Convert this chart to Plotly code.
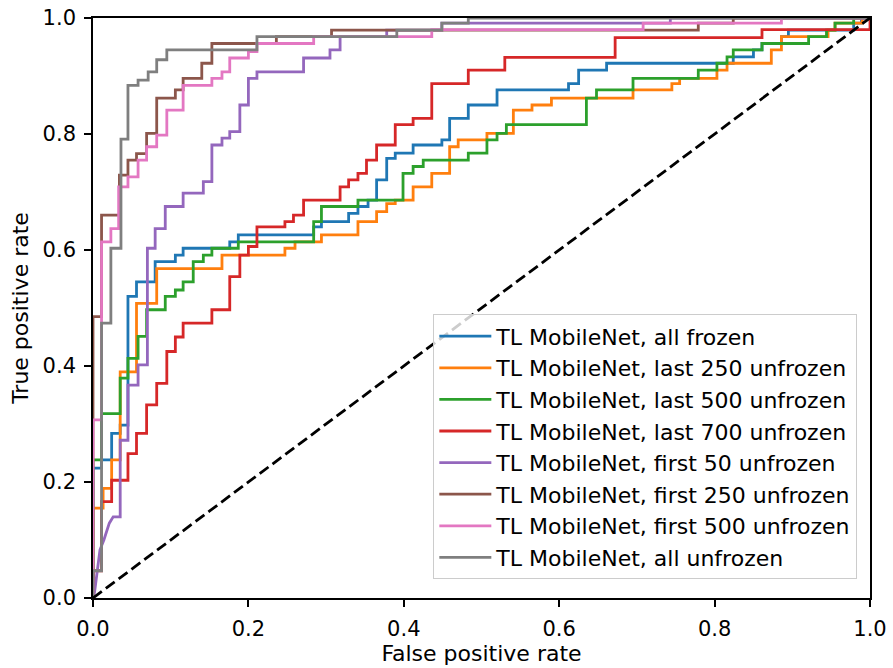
import plotly.graph_objects as go

# ---- data: ROC curve vertices (false positive rate, true positive rate) ----
labels = [
    "TL MobileNet, all frozen",
    "TL MobileNet, last 250 unfrozen",
    "TL MobileNet, last 500 unfrozen",
    "TL MobileNet, last 700 unfrozen",
    "TL MobileNet, first 50 unfrozen",
    "TL MobileNet, first 250 unfrozen",
    "TL MobileNet, first 500 unfrozen",
    "TL MobileNet, all unfrozen",
]
colors = ["#1f77b4", "#ff7f0e", "#2ca02c", "#d62728",
          "#9467bd", "#8c564b", "#e377c2", "#7f7f7f"]

fpr_all_frozen = [0, 0, 0.011, 0.011, 0.024, 0.024, 0.035, 0.035, 0.045, 0.045, 0.056, 0.056, 0.080, 0.080,
                  0.106, 0.106, 0.116, 0.116, 0.176, 0.176, 0.187, 0.187, 0.284, 0.284, 0.294, 0.294, 0.329, 0.329,
                  0.341, 0.341, 0.354, 0.354, 0.365, 0.365, 0.378, 0.378, 0.389, 0.389, 0.412, 0.412, 0.449, 0.449,
                  0.459, 0.459, 0.483, 0.483, 0.520, 0.520, 0.612, 0.612, 0.625, 0.625, 0.661, 0.661, 0.824, 0.824,
                  0.850, 0.850, 0.861, 0.861, 0.886, 0.886, 0.895, 0.895, 0.979, 0.979, 0.989, 0.989, 1.0]
tpr_all_frozen = [0, 0.224, 0.224, 0.238, 0.238, 0.284, 0.284, 0.298, 0.298, 0.520, 0.520, 0.545, 0.545, 0.580,
                  0.580, 0.591, 0.591, 0.603, 0.603, 0.614, 0.614, 0.626, 0.626, 0.640, 0.640, 0.649, 0.649, 0.663,
                  0.663, 0.675, 0.675, 0.686, 0.686, 0.721, 0.721, 0.758, 0.758, 0.767, 0.767, 0.781, 0.781, 0.790,
                  0.790, 0.827, 0.827, 0.850, 0.850, 0.876, 0.876, 0.887, 0.887, 0.910, 0.910, 0.922, 0.922, 0.933,
                  0.933, 0.945, 0.945, 0.956, 0.956, 0.968, 0.968, 0.979, 0.979, 0.991, 0.991, 1.0, 1.0]

fpr_last250 = [0, 0, 0.013, 0.013, 0.024, 0.024, 0.035, 0.035, 0.056, 0.056, 0.082, 0.082, 0.166, 0.166,
               0.247, 0.247, 0.260, 0.260, 0.294, 0.294, 0.341, 0.341, 0.365, 0.365, 0.378, 0.378, 0.389, 0.389,
               0.412, 0.412, 0.436, 0.436, 0.459, 0.459, 0.470, 0.470, 0.507, 0.507, 0.541, 0.541, 0.565, 0.565,
               0.590, 0.590, 0.695, 0.695, 0.745, 0.745, 0.755, 0.755, 0.803, 0.803, 0.816, 0.816, 0.873, 0.873,
               0.886, 0.886, 0.946, 0.946, 0.955, 0.955, 0.990, 0.990, 1.0]
tpr_last250 = [0, 0.155, 0.155, 0.189, 0.189, 0.238, 0.238, 0.390, 0.390, 0.508, 0.508, 0.568, 0.568, 0.591,
               0.591, 0.603, 0.603, 0.614, 0.614, 0.626, 0.626, 0.649, 0.649, 0.666, 0.666, 0.680, 0.680, 0.686,
               0.686, 0.709, 0.709, 0.732, 0.732, 0.778, 0.778, 0.790, 0.790, 0.801, 0.801, 0.841, 0.841, 0.850,
               0.850, 0.862, 0.862, 0.876, 0.876, 0.887, 0.887, 0.896, 0.896, 0.910, 0.910, 0.922, 0.922, 0.945,
               0.945, 0.968, 0.968, 0.979, 0.979, 0.991, 0.991, 1.0, 1.0]

fpr_last500 = [0, 0, 0.011, 0.011, 0.035, 0.035, 0.045, 0.045, 0.058, 0.058, 0.069, 0.069, 0.093, 0.093,
               0.106, 0.106, 0.116, 0.116, 0.129, 0.129, 0.142, 0.142, 0.153, 0.153, 0.187, 0.187, 0.284, 0.284,
               0.294, 0.294, 0.341, 0.341, 0.399, 0.399, 0.412, 0.412, 0.425, 0.425, 0.483, 0.483, 0.507, 0.507,
               0.520, 0.520, 0.532, 0.532, 0.635, 0.635, 0.648, 0.648, 0.695, 0.695, 0.779, 0.779, 0.803, 0.803,
               0.816, 0.816, 0.824, 0.824, 0.861, 0.861, 0.921, 0.921, 0.944, 0.944, 0.955, 0.955, 0.979, 0.979, 1.0]
tpr_last500 = [0, 0.238, 0.238, 0.318, 0.318, 0.379, 0.379, 0.413, 0.413, 0.451, 0.451, 0.497, 0.497, 0.520,
               0.520, 0.531, 0.531, 0.545, 0.545, 0.580, 0.580, 0.591, 0.591, 0.603, 0.603, 0.614, 0.614, 0.649,
               0.649, 0.675, 0.675, 0.686, 0.686, 0.732, 0.732, 0.744, 0.744, 0.755, 0.755, 0.767, 0.767, 0.790,
               0.790, 0.801, 0.801, 0.816, 0.816, 0.862, 0.862, 0.876, 0.876, 0.896, 0.896, 0.910, 0.910, 0.922,
               0.922, 0.933, 0.933, 0.945, 0.945, 0.956, 0.956, 0.968, 0.968, 0.979, 0.979, 0.991, 0.991, 1.0, 1.0]

fpr_last700 = [0, 0, 0.011, 0.011, 0.024, 0.024, 0.045, 0.045, 0.056, 0.056, 0.069, 0.069, 0.082, 0.082, 0.095,
               0.095, 0.106, 0.106, 0.116, 0.116, 0.153, 0.153, 0.176, 0.176, 0.189, 0.189, 0.200, 0.200, 0.211,
               0.211, 0.247, 0.247, 0.258, 0.258, 0.271, 0.271, 0.318, 0.318, 0.329, 0.329, 0.341, 0.341, 0.352,
               0.352, 0.365, 0.365, 0.389, 0.389, 0.412, 0.412, 0.436, 0.436, 0.483, 0.483, 0.530, 0.530, 0.672,
               0.672, 0.861, 0.861, 1.0, 1.0]
tpr_last700 = [0, 0.047, 0.047, 0.166, 0.166, 0.203, 0.203, 0.249, 0.249, 0.284, 0.284, 0.333, 0.333, 0.370, 0.370,
               0.425, 0.425, 0.450, 0.450, 0.474, 0.474, 0.497, 0.497, 0.554, 0.554, 0.591, 0.591, 0.606, 0.606,
               0.640, 0.640, 0.649, 0.649, 0.660, 0.660, 0.686, 0.686, 0.709, 0.709, 0.721, 0.721, 0.732, 0.732,
               0.755, 0.755, 0.781, 0.781, 0.816, 0.816, 0.827, 0.827, 0.887, 0.887, 0.910, 0.910, 0.932, 0.932,
               0.966, 0.966, 0.980, 0.980, 1.0]

fpr_first50 = [0, 0.002, 0.009, 0.014, 0.021, 0.026, 0.035, 0.035, 0.045, 0.045, 0.058, 0.058, 0.070, 0.070,
               0.080, 0.080, 0.093, 0.093, 0.116, 0.116, 0.142, 0.142, 0.153, 0.153, 0.166, 0.166, 0.176, 0.176,
               0.189, 0.189, 0.200, 0.200, 0.211, 0.211, 0.271, 0.271, 0.305, 0.305, 0.318, 0.318, 0.378, 0.378,
               0.449, 0.449, 0.743, 0.743, 1.0]
tpr_first50 = [0, 0.010, 0.083, 0.100, 0.129, 0.140, 0.140, 0.272, 0.272, 0.367, 0.367, 0.402, 0.402, 0.603,
               0.603, 0.637, 0.637, 0.675, 0.675, 0.698, 0.698, 0.718, 0.718, 0.781, 0.781, 0.793, 0.793, 0.804,
               0.804, 0.850, 0.850, 0.896, 0.896, 0.907, 0.907, 0.931, 0.931, 0.945, 0.945, 0.968, 0.968, 0.979,
               0.979, 0.991, 0.991, 1.0, 1.0]

fpr_first250 = [0, 0, 0.011, 0.011, 0.034, 0.034, 0.045, 0.045, 0.056, 0.056, 0.069, 0.069, 0.082, 0.082,
                0.106, 0.106, 0.116, 0.116, 0.140, 0.140, 0.153, 0.153, 0.236, 0.236, 0.307, 0.307, 0.779, 0.779,
                0.824, 0.824, 1.0]
tpr_first250 = [0, 0.485, 0.485, 0.660, 0.660, 0.729, 0.729, 0.755, 0.755, 0.766, 0.766, 0.801, 0.801, 0.862,
                0.862, 0.876, 0.876, 0.896, 0.896, 0.922, 0.922, 0.956, 0.956, 0.968, 0.968, 0.979, 0.979, 0.991,
                0.991, 1.0, 1.0]

fpr_first500 = [0, 0, 0.011, 0.011, 0.023, 0.023, 0.033, 0.033, 0.045, 0.045, 0.058, 0.058, 0.069, 0.069,
                0.082, 0.082, 0.095, 0.095, 0.116, 0.116, 0.153, 0.153, 0.166, 0.166, 0.176, 0.176, 0.200, 0.200,
                0.211, 0.211, 0.284, 0.284, 0.436, 0.436, 0.708, 0.708, 0.886, 0.886, 1.0]
tpr_first500 = [0, 0.307, 0.307, 0.614, 0.614, 0.637, 0.637, 0.709, 0.709, 0.726, 0.726, 0.755, 0.755, 0.778,
                0.778, 0.798, 0.798, 0.841, 0.841, 0.884, 0.884, 0.896, 0.896, 0.907, 0.907, 0.931, 0.931, 0.942,
                0.942, 0.956, 0.956, 0.968, 0.968, 0.980, 0.980, 0.991, 0.991, 1.0, 1.0]

fpr_all_unfrozen = [0, 0, 0.011, 0.011, 0.023, 0.023, 0.036, 0.036, 0.045, 0.045, 0.058, 0.058, 0.071, 0.071,
                    0.082, 0.082, 0.095, 0.095, 0.211, 0.211, 0.391, 0.391, 0.449, 0.449, 0.483, 0.483, 1.0]
tpr_all_unfrozen = [0, 0.047, 0.047, 0.474, 0.474, 0.603, 0.603, 0.791, 0.791, 0.884, 0.884, 0.893, 0.893, 0.907,
                    0.907, 0.928, 0.928, 0.945, 0.945, 0.968, 0.968, 0.979, 0.979, 0.991, 0.991, 1.0, 1.0]

chance_line = [0, 1]

xticks = [0.0, 0.2, 0.4, 0.6, 0.8, 1.0]
yticks = [0.0, 0.2, 0.4, 0.6, 0.8, 1.0]

series = [
    (fpr_all_frozen, tpr_all_frozen),
    (fpr_last250, tpr_last250),
    (fpr_last500, tpr_last500),
    (fpr_last700, tpr_last700),
    (fpr_first50, tpr_first50),
    (fpr_first250, tpr_first250),
    (fpr_first500, tpr_first500),
    (fpr_all_unfrozen, tpr_all_unfrozen),
]

FONT = "DejaVu Sans"
FS_TICK = 21
FS_TEXT = 22

fig = go.Figure()
for (xs, ys), name, col in zip(series, labels, colors):
    fig.add_trace(go.Scatter(x=xs, y=ys, mode="lines", name=name, legendgroup=name,
                             line=dict(color=col, width=2.8)))

fig.add_trace(go.Scatter(x=chance_line, y=chance_line, mode="lines", showlegend=False,
                         line=dict(color="black", width=2.8, dash="11px,5px")))

axis_common = dict(
    range=[0, 1], showgrid=False, zeroline=False, showline=True, mirror=True,
    linecolor="black", linewidth=1.6, ticks="outside", ticklen=7, tickwidth=1.6,
    tickcolor="black", tickfont=dict(family=FONT, size=FS_TICK, color="black"),
    tickformat=".1f", ticklabelstandoff=4, automargin=False,
)

fig.update_layout(
    width=893, height=668,
    margin=dict(l=93, r=23, t=18, b=70, autoexpand=False),
    paper_bgcolor="white", plot_bgcolor="white",
    font=dict(family=FONT, size=FS_TEXT, color="black"),
    xaxis=dict(axis_common, tickvals=xticks,
               title=dict(text="False positive rate", font=dict(family=FONT, size=FS_TEXT), standoff=2)),
    yaxis=dict(axis_common, tickvals=yticks,
               title=dict(text="True positive rate", font=dict(family=FONT, size=FS_TEXT), standoff=8)),
    legend=dict(x=0.438, y=0.489, xanchor="left", yanchor="top",
                bgcolor="rgba(255,255,255,0.8)", bordercolor="#cccccc", borderwidth=1,
                font=dict(family=FONT, size=FS_TEXT, color="black"), tracegroupgap=8,
                itemwidth=52, traceorder="normal"),
    showlegend=True,
)

fig.write_html("out.html")
